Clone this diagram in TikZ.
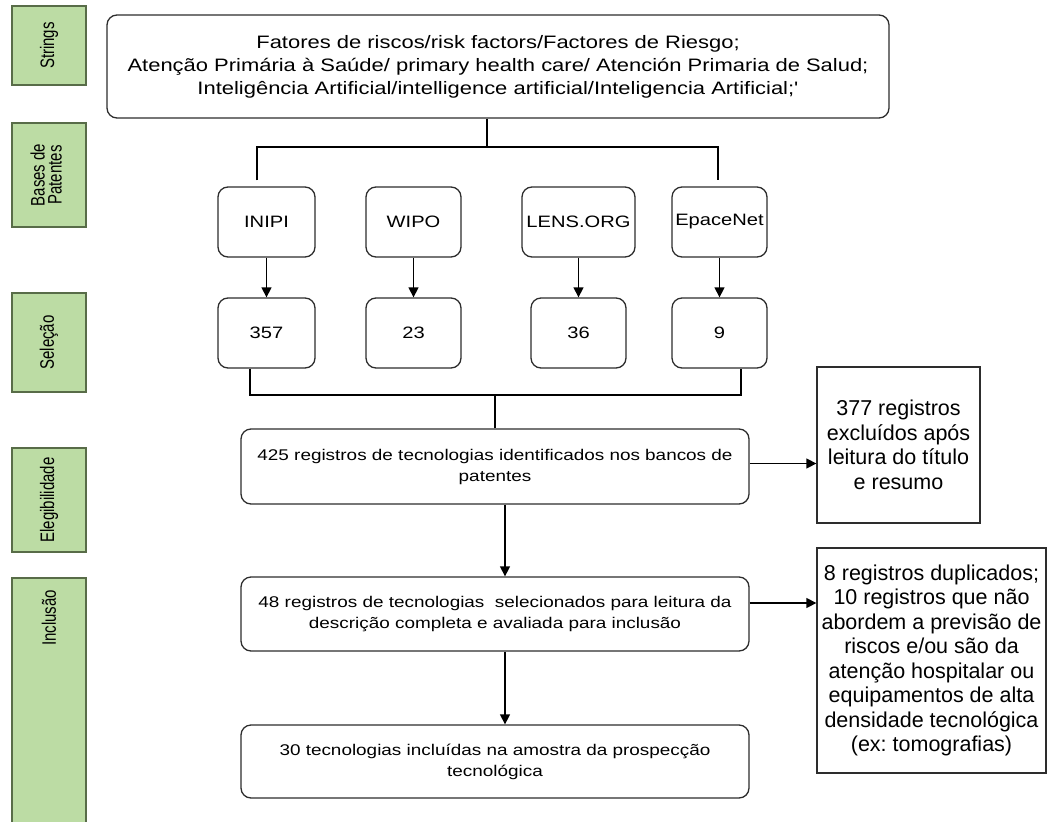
\documentclass[tikz,border=0pt]{standalone}
\usepackage{fontspec}
\setmainfont{Liberation Sans}
\newfontfamily\widefont{Liberation Sans}[FakeStretch=1.22, Ligatures=TeXOff]
\usetikzlibrary{arrows.meta,calc}
\definecolor{lblfill}{RGB}{188,220,164}
\definecolor{lbldraw}{RGB}{88,108,72}
\definecolor{boxdraw}{RGB}{45,45,45}
\newcommand{\vlbl}[1]{\rotatebox{90}{\scalebox{1}[1.3]{#1}}}
\frenchspacing
\begin{document}
\begin{tikzpicture}[x=1pt,y=-1pt]
\tikzset{
 lbl/.style={draw=lbldraw, fill=lblfill, line width=1.6pt, minimum width=74pt, inner sep=0, font=\fontsize{15}{16}\selectfont},
 rbox/.style={draw=boxdraw, rounded corners=10pt, line width=1.3pt, align=center, inner sep=0},
 sbox/.style={draw=boxdraw, line width=1.3pt, align=center, inner sep=0, font=\fontsize{21.5}{24.5}\selectfont},
 dbbox/.style={rbox, minimum width=96pt, minimum height=70pt, font=\widefont\fontsize{16.5}{18}\selectfont},
 midbox/.style={rbox, minimum width=508pt, font=\widefont\fontsize{15.5}{21}\selectfont},
 thickline/.style={line width=2.8pt},
 arr/.style={line width=1.3pt, -{Triangle[length=10pt,width=10pt]}},
}
\useasboundingbox (0,0) rectangle (1048,821);
% side labels
\node[lbl, minimum height=79pt] (l1) at (49,45.5) {\vlbl{Strings}};
\node[lbl, minimum height=104pt] (l2) at (49,175) {\vlbl{\begin{tabular}{@{}c@{}}Bases de\\[-3pt]Patentes\end{tabular}}};
\node[lbl, minimum height=99pt] (l3) at (49,342.5) {\vlbl{Seleção}};
\node[lbl, minimum height=104pt] (l4) at (49,500) {\vlbl{Elegibilidade}};
\node[lbl, minimum height=250pt] (l5) at (49,703) {};
\node[font=\fontsize{15}{16}\selectfont] (l5t) at (49,618) {\vlbl{Inclusão}};
% top box
\node[rbox, minimum width=782pt, minimum height=103pt, font=\widefont\fontsize{18}{23}\selectfont] (top) at (498,66.5)
 {Fatores de riscos/risk factors/Factores de Riesgo;\\Atenção Primária à Saúde/ primary health care/ Atención Primaria de Salud;\\Inteligência Artificial/intelligence artificial/Inteligencia Artificial;'};
% databases
\node[dbbox, minimum width=97pt] (inipi) at (266.5,222) {INIPI};
\node[dbbox, minimum width=95pt] (wipo) at (413.5,222) {WIPO};
\node[dbbox, minimum width=113pt] (lens) at (578.5,222) {LENS.ORG};
\node[dbbox, minimum width=95pt] (epace) at (719.5,222) {EpaceNet};
\node[dbbox, minimum width=97pt] (n1) at (266.5,333) {357};
\node[dbbox, minimum width=95pt] (n2) at (413.5,333) {23};
\node[dbbox, minimum width=95pt] (n3) at (578.5,333) {36};
\node[dbbox, minimum width=95pt] (n4) at (719.5,333) {9};
% middle boxes
\node[midbox, minimum height=75pt] (sel) at (495,466.5) {425 registros de tecnologias identificados nos bancos de\\patentes};
\node[midbox, minimum height=74pt] (eleg) at (495,614) {48 registros de tecnologias \ selecionados para leitura da\\descrição completa e avaliada para inclusão};
\node[midbox, minimum height=73pt] (incl) at (495,761.5) {30 tecnologias incluídas na amostra da prospecção\\tecnológica};
% right boxes
\node[sbox, minimum width=163pt, minimum height=156pt] (ex1) at (898.5,445) {377 registros\\excluídos após\\leitura do título\\e resumo};
\node[sbox, minimum width=229pt, minimum height=225pt] (ex2) at (931.5,660.5) {8 registros duplicados;\\10 registros que não\\abordem a previsão de\\riscos e/ou são da\\atenção hospitalar ou\\equipamentos de alta\\densidade tecnológica\\(ex: tomografias)};
% connectors
\coordinate (st) at (487,147);
\coordinate (hL) at (257,147);
\coordinate (hR) at (718,147);
\draw[thickline] (top.south -| st) -- (st);
\draw[thickline] ($(inipi.north -| hL)+(0,-6)$) |- (hR) -- ($(epace.north -| hR)+(0,-6)$);
\draw[arr] (inipi.south) -- (n1.north);
\draw[arr] (wipo.south) -- (n2.north);
\draw[arr] (lens.south) -- (n3.north);
\draw[arr] (epace.south) -- (n4.north);
\coordinate (bL) at (250,395);
\coordinate (bR) at (741,395);
\draw[thickline] (n1.south -| bL) |- (bR) -- (n4.south -| bR);
\draw[thickline] (sel.north) -- (sel.north |- bL);
\draw[arr] ($(sel.south)+(10,0)$) -- ($(eleg.north)+(10,0)$);
\draw[arr] ($(eleg.south)+(10,0)$) -- ($(incl.north)+(10,0)$);
\draw[arr] ($(sel.east)+(0,-3)$) -- ($(sel.east -| ex1.west)+(0,-3)$);
\draw[arr] ($(eleg.east)+(0,-11)$) -- ($(eleg.east -| ex2.west)+(0,-11)$);
\end{tikzpicture}
\end{document}
